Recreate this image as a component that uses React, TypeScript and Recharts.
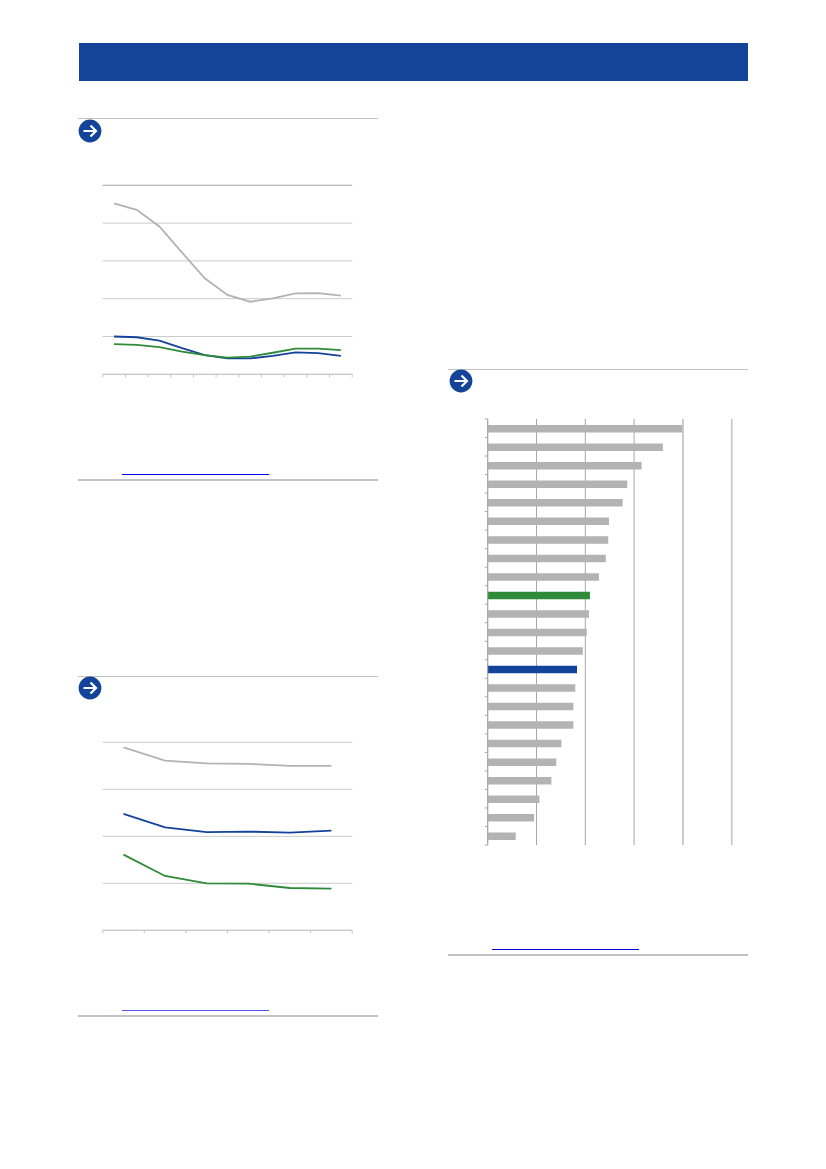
// Report page with three charts. Axis labels and titles are blank in the source.
import { LineChart, Line, BarChart, Bar, Cell, XAxis, YAxis, CartesianGrid, ReferenceLine } from 'recharts';

const NAVY = '#14439a';
const GREEN = '#2f8a3a';
const GREY = '#b3b3b3';
const AXIS = '#c4c4c4';

// top-left chart (11 periods)
const periodsA = ['p1', 'p2', 'p3', 'p4', 'p5', 'p6', 'p7', 'p8', 'p9', 'p10', 'p11'];
const greyA = [4.52, 4.35, 3.91, 3.22, 2.54, 2.1, 1.92, 2.01, 2.14, 2.15, 2.08];
const navyA = [1.0, 0.98, 0.89, 0.69, 0.51, 0.42, 0.42, 0.49, 0.58, 0.56, 0.485];
const greenA = [0.8, 0.78, 0.72, 0.6, 0.51, 0.44, 0.47, 0.57, 0.68, 0.68, 0.64];
const ticksA = [0, 1, 2, 3, 4, 5];

// bottom-left chart (6 periods)
const periodsB = ['p1', 'p2', 'p3', 'p4', 'p5', 'p6'];
const greyB = [3.89, 3.61, 3.55, 3.54, 3.5, 3.5];
const navyB = [2.475, 2.19, 2.09, 2.1, 2.08, 2.12];
const greenB = [1.61, 1.156, 1.0, 0.993, 0.9, 0.887];
const ticksB = [0, 1, 2, 3, 4];

// right chart (23 countries, ranked)
const barNames = ['c1', 'c2', 'c3', 'c4', 'c5', 'c6', 'c7', 'c8', 'c9', 'c10', 'c11', 'c12', 'c13', 'c14', 'c15', 'c16', 'c17', 'c18', 'c19', 'c20', 'c21', 'c22', 'c23'];
const barValues = [4.0, 3.59, 3.155, 2.86, 2.765, 2.485, 2.47, 2.42, 2.28, 2.095, 2.075, 2.03, 1.95, 1.83, 1.795, 1.755, 1.755, 1.51, 1.405, 1.305, 1.06, 0.95, 0.575];
const greenBar = 'c10';
const navyBar = 'c14';
const ticksC = [0, 1, 2, 3, 4, 5];

const dataA = periodsA.map((p, i) => ({ p, grey: greyA[i], navy: navyA[i], green: greenA[i] }));
const dataB = periodsB.map((p, i) => ({ p, grey: greyB[i], navy: navyB[i], green: greenB[i] }));
const dataC = barNames.map((name, i) => ({ name, value: barValues[i] }));

// ticks sit between categories, so draw them at the band edges
function EdgeTickX({ x, y, index, band, count }: any) {
  const left = x - band / 2;
  return (
    <g>
      <line x1={left} x2={left} y1={y - 8} y2={y - 5} stroke={AXIS} />
      {index === count - 1 && <line x1={left + band} x2={left + band} y1={y - 8} y2={y - 5} stroke={AXIS} />}
    </g>
  );
}

function EdgeTickY({ x, y, index, band, count }: any) {
  const top = y - band / 2;
  return (
    <g>
      <line x1={x + 5} x2={x + 8} y1={top} y2={top} stroke="#a8a8a8" />
      {index === count - 1 && <line x1={x + 5} x2={x + 8} y1={top + band} y2={top + band} stroke="#a8a8a8" />}
    </g>
  );
}

function Rule({ left, top, thick }: { left: number; top: number; thick?: boolean }) {
  return <div style={{ position: 'absolute', left, top, width: 300, height: thick ? 1.7 : 1.2, background: '#c2c2c2' }} />;
}

function LinkBar({ left, top, color }: { left: number; top: number; color: string }) {
  return <div style={{ position: 'absolute', left, top, width: 147, height: 1, background: color }} />;
}

function ArrowIcon({ left, top }: { left: number; top: number }) {
  return (
    <svg style={{ position: 'absolute', left, top }} width={24} height={24} viewBox="0 0 24 24">
      <circle cx={12} cy={12} r={11.4} fill={NAVY} />
      <path d="M5.5 12H17.5M12.5 6.5L18 12L12.5 17.5" fill="none" stroke="#fff" strokeWidth={2.2} />
    </svg>
  );
}

function TrendChart({ data, periods, ticks, left, top, height, topLine }: any) {
  const band = 249.5 / periods.length;
  return (
    <div style={{ position: 'absolute', left, top }}>
      <LineChart width={259.5} height={height} data={data} margin={{ top: 5.3, right: 5.3, bottom: 0, left: 4.7 }}>
        <CartesianGrid vertical={false} stroke="#cbcbcb" />
        {topLine && <ReferenceLine y={ticks[ticks.length - 1]} stroke={topLine} />}
        <XAxis
          dataKey="p"
          scale="band"
          height={10}
          stroke={AXIS}
          tickLine={false}
          interval={0}
          tick={<EdgeTickX band={band} count={periods.length} />}
        />
        <YAxis hide domain={[ticks[0], ticks[ticks.length - 1]]} ticks={ticks} />
        <Line dataKey="grey" stroke={GREY} strokeWidth={1.8} dot={false} isAnimationActive={false} />
        <Line dataKey="navy" stroke={NAVY} strokeWidth={1.8} dot={false} isAnimationActive={false} />
        <Line dataKey="green" stroke={GREEN} strokeWidth={1.8} dot={false} isAnimationActive={false} />
      </LineChart>
    </div>
  );
}

export default function App() {
  const band = 426 / barNames.length;
  return (
    <div style={{ position: 'absolute', left: 0, top: 0, width: 826, height: 1169, background: '#fff', overflow: 'hidden' }}>
      <div style={{ position: 'absolute', left: 79, top: 43, width: 669, height: 38, background: NAVY }} />

      <Rule left={78} top={118} />
      <ArrowIcon left={78.3} top={119.2} />
      <TrendChart data={dataA} periods={periodsA} ticks={ticksA} left={98} top={180} height={204.3} topLine="#b0b0b0" />
      <LinkBar left={122} top={473.5} color="#0000ee" />
      <Rule left={78} top={479} thick />

      <Rule left={78} top={675.5} />
      <ArrowIcon left={78.3} top={676} />
      <TrendChart data={dataB} periods={periodsB} ticks={ticksB} left={98} top={737} height={203.3} />
      <LinkBar left={122} top={1009.5} color="#5555ff" />
      <Rule left={78} top={1015} thick />

      <Rule left={448} top={368.5} />
      <ArrowIcon left={448.7} top={369.2} />
      <div style={{ position: 'absolute', left: 478, top: 414 }}>
        <BarChart
          width={259}
          height={436}
          layout="vertical"
          data={dataC}
          barSize={7.5}
          margin={{ top: 5, right: 5.3, bottom: 5, left: -0.3 }}
        >
          <CartesianGrid horizontal={false} stroke="#a8a8a8" />
          <ReferenceLine x={4} stroke="#c8c8c8" strokeWidth={1.5} />
          <ReferenceLine x={5} stroke="#c8c8c8" strokeWidth={1.5} />
          <XAxis type="number" hide domain={[0, 5]} ticks={ticksC} />
          <YAxis
            type="category"
            dataKey="name"
            width={10}
            stroke="#a8a8a8"
            tickLine={false}
            interval={0}
            tick={<EdgeTickY band={band} count={barNames.length} />}
          />
          <Bar dataKey="value" isAnimationActive={false}>
            {dataC.map((d) => (
              <Cell key={d.name} fill={d.name === greenBar ? GREEN : d.name === navyBar ? NAVY : GREY} />
            ))}
          </Bar>
        </BarChart>
      </div>
      <LinkBar left={492} top={948.8} color="#0000dd" />
      <Rule left={448} top={954.3} thick />
    </div>
  );
}
